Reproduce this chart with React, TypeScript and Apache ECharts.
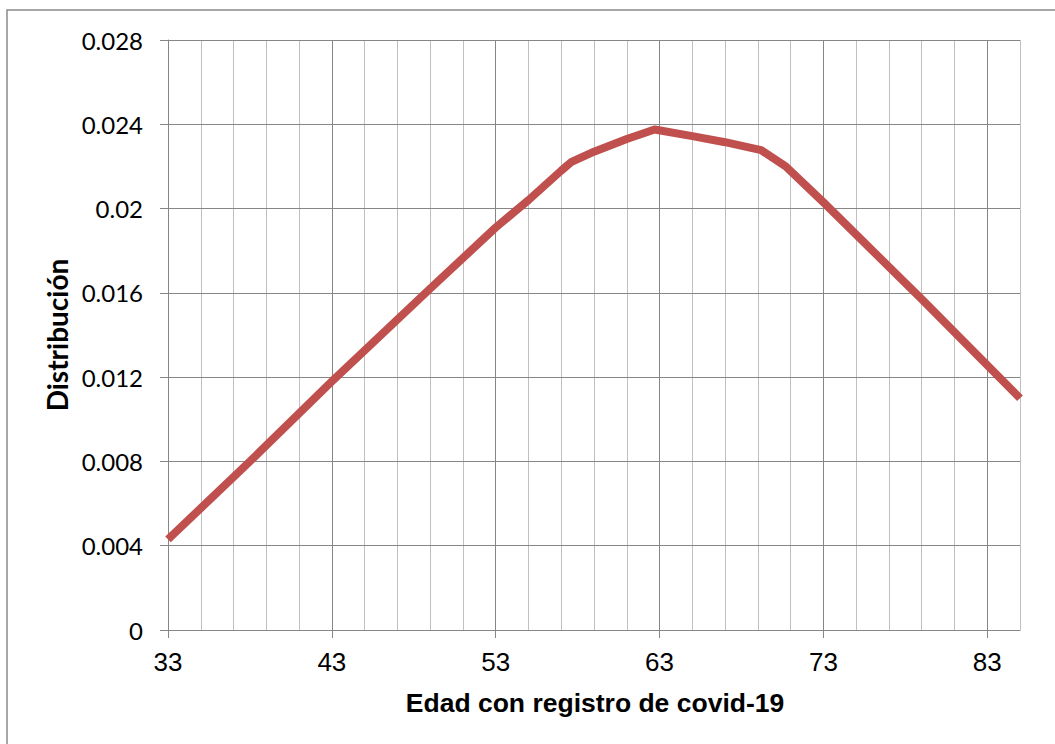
import React, { useEffect, useRef } from "react";
import * as echarts from "echarts";

const ages = [33, 38, 43, 49, 53, 55, 57, 57.6, 59, 61, 62.7, 65, 67, 69.2, 70.7, 73, 79, 85];
const distribution = [0.0043, 0.0080, 0.0118, 0.0162, 0.0191, 0.0204, 0.0218, 0.0222, 0.0227, 0.0233, 0.02375, 0.02344, 0.02315, 0.02277, 0.0220, 0.0203, 0.0157, 0.0110];
const xTicks = [33, 43, 53, 63, 73, 83];
const yTicks = [0, 0.004, 0.008, 0.012, 0.016, 0.02, 0.024, 0.028];
const xTitle = "Edad con registro de covid-19";
const yTitle = "Distribución";

const DARK = "#868686";
const LIGHT = "#c0c0c0";

export default function App() {
  const ref = useRef<HTMLDivElement>(null);
  useEffect(() => {
    if (!ref.current) return;
    const chart = echarts.init(ref.current, null, { renderer: "svg" });
    const points = ages.map((a, i) => [a, distribution[i]]);
    chart.setOption({
      animation: false,
      backgroundColor: "#ffffff",
      grid: { left: 168, top: 40, width: 852, height: 590, containLabel: false },
      xAxis: [
        {
          type: "value",
          position: "bottom",
          min: 33,
          max: 85,
          interval: 2,
          z: 0,
          axisLine: { show: false },
          axisTick: { show: false },
          axisLabel: { show: false },
          splitLine: { show: true, lineStyle: { color: LIGHT, width: 1 } },
        },
        {
          type: "value",
          position: "bottom",
          offset: 0,
          min: 33,
          max: 85,
          interval: 10,
          z: 1,
          axisLine: { show: true, onZero: false, lineStyle: { color: DARK, width: 1 } },
          axisTick: { show: true, length: 8, customValues: xTicks, lineStyle: { color: DARK } },
          axisLabel: {
            show: true,
            customValues: xTicks,
            margin: 19,
            fontFamily: "Liberation Sans, Arial, sans-serif",
            fontSize: 26,
            color: "#000",
          },
          splitLine: { show: true, lineStyle: { color: DARK, width: 1 } },
        },
      ],
      yAxis: {
        type: "value",
        min: 0,
        max: 0.028,
        interval: 0.004,
        z: 1,
        axisLine: { show: true, lineStyle: { color: DARK, width: 1 } },
        axisTick: { show: true, length: 8, lineStyle: { color: DARK } },
        axisLabel: {
          margin: 25,
          fontFamily: "Lato, sans-serif",
          fontSize: 24,
          color: "#000",
          formatter: (v: number) => {
            const t = yTicks.find((y) => Math.abs(y - v) < 1e-9);
            return t === undefined ? "" : String(t);
          },
        },
        splitLine: { show: true, lineStyle: { color: DARK, width: 1 } },
      },
      graphic: [
        {
          type: "rect",
          shape: { x: 7, y: 10, width: 1200, height: 900 },
          style: { fill: "none", stroke: "#8a8a8a", lineWidth: 1.5 },
          silent: true,
          z: 0,
        },
        {
          type: "text",
          x: 57,
          y: 335,
          rotation: Math.PI / 2,
          style: {
            text: yTitle,
            fontFamily: "Lato, sans-serif",
            fontWeight: "bold",
            fontSize: 28,
            fill: "#000",
            textAlign: "center",
            textVerticalAlign: "middle",
          },
        },
        {
          type: "text",
          x: 595,
          y: 703,
          style: {
            text: xTitle,
            fontFamily: "Liberation Sans, Arial, sans-serif",
            fontWeight: "bold",
            fontSize: 26.5,
            fill: "#000",
            textAlign: "center",
            textVerticalAlign: "middle",
          },
        },
      ],
      series: [
        {
          type: "line",
          xAxisIndex: 1,
          data: points,
          showSymbol: false,
          symbol: "none",
          smooth: false,
          clip: true,
          lineStyle: { color: "#C0504D", width: 8, join: "round" },
          z: 5,
        },
      ],
    });
    return () => chart.dispose();
  }, []);
  return (
    <div
      ref={ref}
      style={{ position: "fixed", left: 0, top: 0, width: 1055, height: 744, background: "#fff" }}
    />
  );
}
